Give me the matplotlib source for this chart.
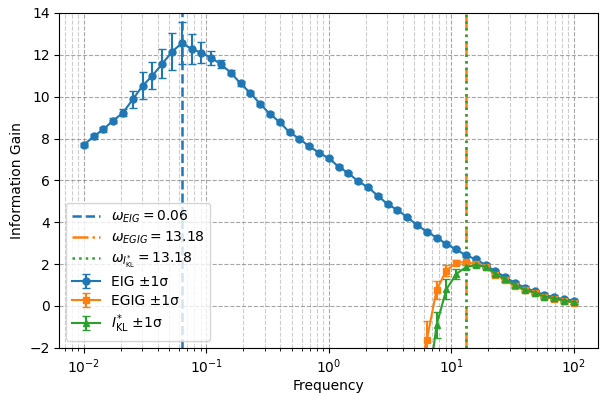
import numpy as np
import matplotlib
matplotlib.use("Agg")
import matplotlib.pyplot as plt

# frequency grid: 51 log-spaced points from 1e-2 to 1e2
freq = np.logspace(-2, 2, 51)

eig = [7.70, 8.10, 8.45, 8.86, 9.24, 9.88, 10.52, 11.01, 11.57, 12.15,
       12.56, 12.28, 12.10, 11.85, 11.55, 11.14, 10.63, 10.17, 9.65, 9.17,
       8.78, 8.29, 7.99, 7.62, 7.33, 7.05, 6.66, 6.34, 5.96, 5.67,
       5.27, 4.86, 4.59, 4.24, 3.87, 3.55, 3.27, 2.96, 2.70, 2.42,
       2.23, 1.96, 1.66, 1.38, 1.10, 0.88, 0.70, 0.52, 0.42, 0.32, 0.26]
eig_err = [0.10, 0.10, 0.12, 0.12, 0.15, 0.40, 0.64, 0.64, 0.70, 0.88,
           1.00, 0.72, 0.50, 0.32, 0.18, 0.12, 0.10, 0.08, 0.08, 0.08,
           0.08, 0.08, 0.08, 0.08, 0.08, 0.08, 0.08, 0.08, 0.08, 0.08,
           0.08, 0.08, 0.08, 0.08, 0.08, 0.08, 0.08, 0.08, 0.08, 0.08,
           0.08, 0.08, 0.08, 0.08, 0.08, 0.08, 0.08, 0.08, 0.08, 0.08, 0.08]

# EGIG starts at index 34, I*_KL at index 35
egig = [-3.5, -1.63, 0.76, 1.69, 2.07, 2.09, 2.00, 1.85, 1.50, 1.22,
        0.95, 0.74, 0.60, 0.42, 0.34, 0.24, 0.16]
egig_err = [0.9, 0.92, 0.45, 0.25, 0.12, 0.08, 0.08, 0.08, 0.08, 0.08,
            0.08, 0.08, 0.08, 0.08, 0.08, 0.08, 0.08]
ikl = [-4.5, -0.91, 0.79, 1.53, 1.85, 1.96, 1.88, 1.55, 1.27, 1.00,
       0.78, 0.64, 0.45, 0.37, 0.26, 0.18]
ikl_err = [0.9, 0.64, 0.48, 0.25, 0.10, 0.08, 0.08, 0.08, 0.08, 0.08,
           0.08, 0.08, 0.08, 0.08, 0.08, 0.08]

omega_eig = 0.0631
omega_egig = 13.18
omega_ikl = 13.18

fig, ax = plt.subplots(figsize=(6, 3.93), dpi=100)
fig.subplots_adjust(left=0.099, right=0.997, top=0.967, bottom=0.115)

ax.errorbar(freq, eig, yerr=eig_err, fmt="-o", color="C0", ms=5, capsize=3,
            label="EIG ±1σ")
ax.errorbar(freq[34:], egig, yerr=egig_err, fmt="-s", color="C1", ms=5,
            capsize=3, label="EGIG ±1σ")
ax.errorbar(freq[35:], ikl, yerr=ikl_err, fmt="-^", color="C2", ms=5,
            capsize=3, label=r"$I^{*}_{\mathrm{KL}}$ ±1σ")

ax.axvline(omega_eig, color="C0", ls="--", lw=1.8,
           label=rf"$\omega_{{EIG}} = {omega_eig:.2f}$")
ax.axvline(omega_egig, color="C1", ls="-.", lw=1.8,
           label=rf"$\omega_{{EGIG}} = {omega_egig:.2f}$")
ax.axvline(omega_ikl, color="C2", ls=":", lw=1.8,
           label=rf"$\omega_{{I^{{*}}_{{\mathrm{{KL}}}}}} = {omega_ikl:.2f}$")

ax.set_xscale("log")
ax.set_ylim(-2, 14)
ax.set_xlabel("Frequency", labelpad=2)
ax.set_ylabel("Information Gain")
ax.grid(True, which="major", ls="--", color="gray", alpha=0.7)
ax.grid(True, which="minor", ls="--", color="gray", alpha=0.4)
ax.legend(loc="lower left", labelspacing=0.35)

plt.savefig("out.png", dpi=100)
